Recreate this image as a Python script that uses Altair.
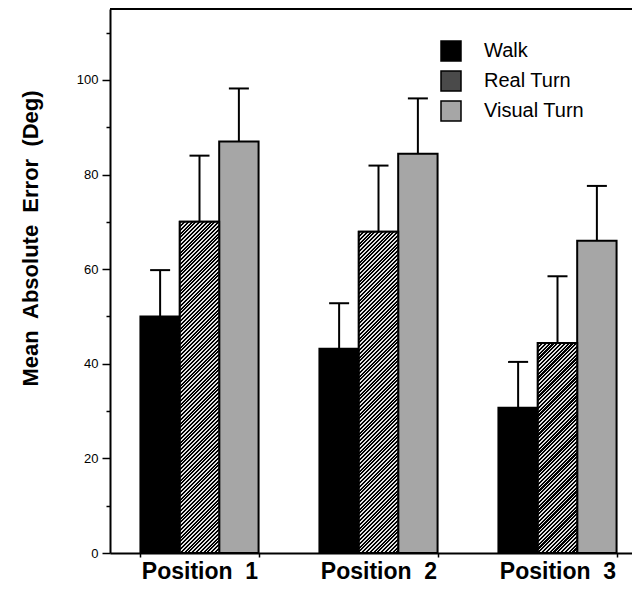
import altair as alt
import numpy as np
import pandas as pd

# ---- data ----
positions = ["Position\u00a0 1", "Position\u00a0 2", "Position\u00a0 3"]
conditions = ["Walk", "Real Turn", "Visual Turn"]
walk_mean = [50.0, 43.2, 30.7]
walk_upper = [59.8, 52.8, 40.4]
real_mean = [70.0, 67.9, 44.4]
real_upper = [84.0, 81.9, 58.5]
visual_mean = [87.0, 84.4, 66.0]
visual_upper = [98.2, 96.1, 77.6]

rows = []
for cond, means, uppers in [("Walk", walk_mean, walk_upper),
                            ("Real Turn", real_mean, real_upper),
                            ("Visual Turn", visual_mean, visual_upper)]:
    for p, m, u in zip(positions, means, uppers):
        rows.append({"Position": p, "Condition": cond, "value": m, "upper": u})
df = pd.DataFrame(rows)

# ---- layout ----
W_PLOT, H_PLOT = 522, 544
X_RANGE = 537          # plot continues past the right edge, as in the original
Y_MAX = 115
P_IN = 0.34
STEP = X_RANGE / 3
BAR_W = STEP * (1 - P_IN) / 3
FONT = "Liberation Sans"

x_enc = alt.X("Position:N", sort=positions,
              scale=alt.Scale(domain=positions, range=[0, X_RANGE],
                              paddingInner=P_IN, paddingOuter=P_IN / 2),
              axis=alt.Axis(title=None, labelAngle=0, labelFontSize=23,
                            labelFontWeight="bold", labelColor="black",
                            labelFont=FONT, labelPadding=3,
                            tickBand="extent", tickSize=4, tickWidth=1.5,
                            tickColor="black", domainColor="black",
                            domainWidth=2))
xo_enc = alt.XOffset("Condition:N", sort=conditions,
                     scale=alt.Scale(domain=conditions, paddingInner=0,
                                     paddingOuter=0))
y_scale = alt.Scale(domain=[0, Y_MAX], nice=False, zero=True)
y_axis = alt.Axis(
    title="Mean\u00a0 Absolute\u00a0 Error\u00a0 (Deg)",
    titleFont=FONT, titleFontSize=22, titleFontWeight="bold",
    titleColor="black", titleAngle=270, titleX=-80, titleY=229,
    titleAlign="center", titleBaseline="middle", orient="left",
    values=list(range(0, 111, 10)),
    labelExpr="datum.value % 20 === 0 ? datum.label : ''",
    labelFont=FONT, labelFontSize=13, labelColor="black",
    labelPadding=4, grid=False,
    tickSize={"condition": {"test": "datum.value % 20 !== 0",
                            "value": 4}, "value": 8},
    tickColor="black", tickWidth=1.5,
    domainColor="black", domainWidth=2)
y_enc = alt.Y("value:Q", scale=y_scale, axis=y_axis)

base = alt.Chart(df)

err_line = base.mark_rule(color="black", strokeWidth=2).encode(
    x=x_enc, xOffset=xo_enc, y=y_enc, y2="upper:Q")
err_cap = base.mark_tick(color="black", orient="horizontal", size=20,
                         thickness=2, opacity=1).encode(
    x=x_enc, xOffset=xo_enc,
    y=alt.Y("upper:Q", scale=y_scale, axis=y_axis))

bars = base.mark_bar(stroke="black", strokeWidth=2).encode(
    x=x_enc, xOffset=xo_enc, y=y_enc,
    color=alt.Color("Condition:N",
                    scale=alt.Scale(domain=conditions,
                                    range=["#000000", "#4a4a4a", "#a6a6a6"]),
                    legend=alt.Legend(orient="none", legendX=330, legendY=31,
                                      title=None, symbolType="square",
                                      symbolSize=400, symbolStrokeColor="black",
                                      symbolStrokeWidth=1.5, labelFont=FONT,
                                      labelFontSize=20, labelColor="black",
                                      labelOffset=22, rowPadding=4,
                                      padding=0)))


def hatch(h_px, w_px=BAR_W, period=3.8, dark=0.55):
    L = w_px + h_px
    k = L / (w_px ** 2 + h_px ** 2)
    n = int(np.ceil(L / period))
    stops = []
    for i in range(n):
        s = i * period / L
        m = min((i + dark) * period / L, 1.0)
        e = min((i + 1) * period / L, 1.0)
        stops += [(s, "#000000"), (m, "#000000"), (m, "#e0e0e0"), (e, "#e0e0e0")]
    return alt.LinearGradient(
        gradient="linear",
        stops=[alt.GradientStop(offset=round(o, 6), color=c) for o, c in stops],
        x1=0, y1=0, x2=w_px * k, y2=h_px * k)


hatched = []
for p, v in zip(positions, real_mean):
    h_px = v * H_PLOT / Y_MAX
    hatched.append(
        base.transform_filter(
            (alt.datum.Condition == "Real Turn") & (alt.datum.Position == p)
        ).mark_bar(fill=hatch(h_px), stroke="black", strokeWidth=2).encode(
            x=x_enc, xOffset=xo_enc, y=y_enc))

top_line = alt.Chart(pd.DataFrame({"value": [Y_MAX]})).mark_rule(
    color="black", strokeWidth=2).encode(
    y=y_enc, x=alt.value(0), x2=alt.value(X_RANGE))

chart = alt.layer(err_line, err_cap, bars, *hatched, top_line).properties(
    width=W_PLOT, height=H_PLOT,
    autosize=alt.AutoSizeParams(type="none"),
    padding={"left": 102, "top": 1, "right": 0, "bottom": 31},
    view=alt.ViewBackground(stroke="transparent", strokeWidth=0),
).configure(font=FONT, background="white").configure_view(
    stroke="transparent", strokeWidth=0)

chart.save("out.html", embed_options={"renderer": "svg", "actions": False})
